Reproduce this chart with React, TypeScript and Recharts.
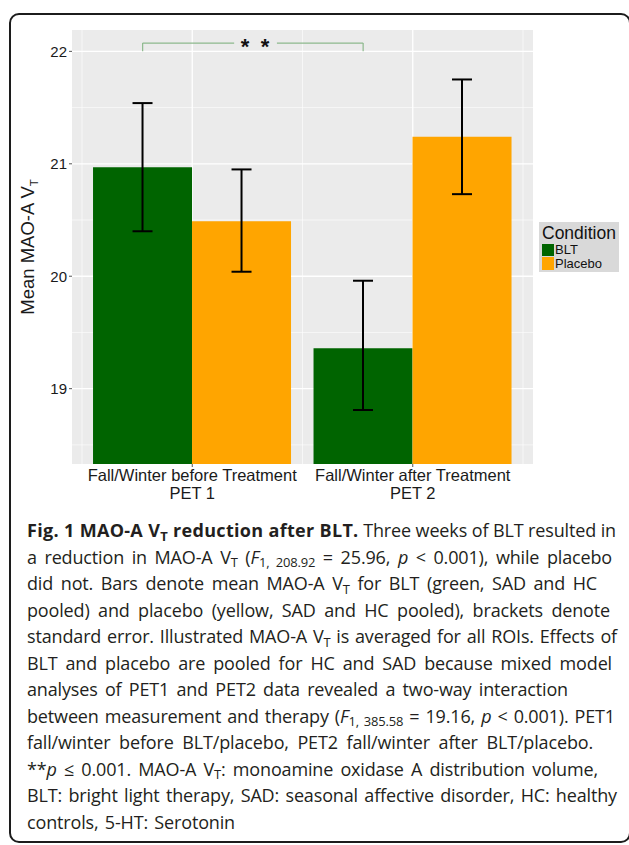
import { ComposedChart, Bar, ErrorBar, XAxis, YAxis, CartesianGrid, Legend, ReferenceLine, ReferenceDot } from 'recharts';

const periods = ['Fall/Winter before Treatment', 'Fall/Winter after Treatment'];
const sessions = ['PET 1', 'PET 2'];
const bltMean = [20.97, 19.36];
const bltLow = [20.4, 18.81];
const bltHigh = [21.54, 19.96];
const placeboMean = [20.49, 21.24];
const placeboLow = [20.04, 20.73];
const placeboHigh = [20.95, 21.75];
const conditions = ['BLT', 'Placebo'];
const conditionColors = ['#006400', '#FFA500'];
const yTicks = [19, 20, 21, 22];
const yMinor = [18.5, 19.5, 20.5, 21.5];
const yDomain = [18.33, 22.19];
// significance bracket, BLT PET1 vs BLT PET2
const bracketY = 22;
const bracketTop = 22.074;
const sigLabel = '*';

const data = periods.map((p, i) => ({
  period: p,
  session: sessions[i],
  blt: bltMean[i],
  bltErr: [bltMean[i] - bltLow[i], bltHigh[i] - bltMean[i]],
  placebo: placeboMean[i],
  placeboErr: [placeboMean[i] - placeboLow[i], placeboHigh[i] - placeboMean[i]],
}));

// hidden numeric axis 0..1 over the same range: each category spans half a unit,
// bars fill 90% of it (5% gap each side)
const catGap = 0.05;
const half = 0.5;
const bltCenter = (catGap + (1 - 2 * catGap) / 4) * half;
const bracketFrom = bltCenter;
const bracketTo = half + bltCenter;
const starsAt = 0.3925;
const gapFrom = 0.345;
const gapTo = 0.442;

const font = 'Liberation Sans, Arial, sans-serif';

const XTick = ({ x, y, payload, index }: any) => (
  <g>
    <text x={x} y={y} dy={11.5} textAnchor="middle" fontSize={16.5} fill="#1a1a1a" fontFamily={font}>{payload.value}</text>
    <text x={x} y={y} dy={29.5} textAnchor="middle" fontSize={16.5} fill="#1a1a1a" fontFamily={font}>{sessions[index]}</text>
  </g>
);

const YLabel = ({ viewBox }: any) => {
  const cx = viewBox.x + 28;
  const cy = viewBox.y + viewBox.height / 2;
  return (
    <text transform={`translate(${cx},${cy}) rotate(-90)`} textAnchor="middle" fontSize={18.5} fill="#1a1a1a" fontFamily={font} dy={6}>
      Mean MAO-A V<tspan fontSize={11.5} dy={4}>T</tspan>
    </text>
  );
};

const LegendBox = () => (
  <div style={{ background: '#d9d9d9', padding: '1px 1px 2px 3px', fontFamily: font, color: '#111', width: 76, textAlign: 'left' }}>
    <div style={{ fontSize: 17.5, lineHeight: '20px', height: 20 }}>Condition</div>
    {conditions.map((c, i) => (
      <div key={c} style={{ display: 'flex', alignItems: 'center', fontSize: 13, lineHeight: '13px', height: 13.5 }}>
        <span style={{ width: 12, height: 12.5, background: conditionColors[i], display: 'inline-block', marginRight: 1 }} />
        {c}
      </div>
    ))}
  </div>
);

const Stars = ({ cx, cy }: any) => (
  <g fontFamily={font} fontWeight="bold" fontSize={22} fill="#111" textAnchor="middle">
    <text x={cx - 10} y={cy + 11}>{sigLabel}</text>
    <text x={cx + 10} y={cy + 11}>{sigLabel}</text>
  </g>
);

const Sub = ({ children }: any) => (
  <span style={{ fontSize: '0.72em', position: 'relative', top: '0.3em', lineHeight: 0 }}>{children}</span>
);

const captionWidths = [589, 585, 570, 583, 590, 585, 541, 588, 566, 571, 590, 208];
const captionLines = [
  <><b style={{ letterSpacing: 0.3 }}>Fig. 1 MAO-A V<Sub>T</Sub> reduction after BLT.</b> Three weeks of BLT resulted in</>,
  <>a reduction in MAO-A V<Sub>T</Sub> (<i>F</i><Sub>1, 208.92</Sub> = 25.96, <i>p</i> &lt; 0.001), while placebo</>,
  <>did not. Bars denote mean MAO-A V<Sub>T</Sub> for BLT (green, SAD and HC</>,
  <>pooled) and placebo (yellow, SAD and HC pooled), brackets denote</>,
  <>standard error. Illustrated MAO-A V<Sub>T</Sub> is averaged for all ROIs. Effects of</>,
  <>BLT and placebo are pooled for HC and SAD because mixed model</>,
  <>analyses of PET1 and PET2 data revealed a two-way interaction</>,
  <>between measurement and therapy (<i>F</i><Sub>1, 385.58</Sub> = 19.16, <i>p</i> &lt; 0.001). PET1</>,
  <>fall/winter before BLT/placebo, PET2 fall/winter after BLT/placebo.</>,
  <>**<i>p</i> ≤ 0.001. MAO-A V<Sub>T</Sub>: monoamine oxidase A distribution volume,</>,
  <>BLT: bright light therapy, SAD: seasonal affective disorder, HC: healthy</>,
  <>controls, 5-HT: Serotonin</>,
];

export default function App() {
  return (
    <div style={{ position: 'absolute', left: 0, top: 0, width: 629, height: 845, background: '#fff', overflow: 'hidden' }}>
      <div style={{ position: 'absolute', left: 9, top: 13, width: 622, height: 830, border: '2px solid #1c1c1c', borderRadius: 10, boxSizing: 'border-box' }} />
      <div style={{ position: 'absolute', left: 0, top: 0 }}>
        <ComposedChart width={629} height={510} data={data} margin={{ top: 30, right: 96, left: 0, bottom: 0 }} barCategoryGap="5%" barGap={0} style={{ fontFamily: font }}>
          <XAxis xAxisId="num" type="number" domain={[0, 1]} hide padding={{ left: 10, right: 10 }} allowDataOverflow />
          <CartesianGrid xAxisId="num" fill="#EBEBEB" fillOpacity={1} stroke="#ffffff" strokeWidth={0.6} horizontalValues={yMinor} verticalValues={[0, 0.5, 1]} />
          <CartesianGrid xAxisId="num" fill="none" stroke="#ffffff" strokeWidth={1.3} horizontalValues={yTicks} verticalValues={[0.25, 0.75]} />
          <XAxis dataKey="period" padding={{ left: 10, right: 10 }} height={46} axisLine={false} tickSize={3} tickMargin={2} tickLine={{ stroke: '#555' }} tick={<XTick />} interval={0} />
          <YAxis domain={yDomain} ticks={yTicks} allowDataOverflow width={72} axisLine={false} tickSize={3} tickMargin={2} tickLine={{ stroke: '#555' }} tick={{ fontSize: 15, fill: '#1a1a1a', fontFamily: font }} label={<YLabel />} />
          <Legend layout="horizontal" verticalAlign="middle" align="center" content={<LegendBox />} wrapperStyle={{ position: 'absolute', left: 539, top: 222, width: 80 }} />
          <Bar dataKey="blt" name={conditions[0]} fill={conditionColors[0]} isAnimationActive={false}>
            <ErrorBar dataKey="bltErr" width={10} stroke="#000" strokeWidth={2} isAnimationActive={false} />
          </Bar>
          <Bar dataKey="placebo" name={conditions[1]} fill={conditionColors[1]} isAnimationActive={false}>
            <ErrorBar dataKey="placeboErr" width={10} stroke="#000" strokeWidth={2} isAnimationActive={false} />
          </Bar>
          <ReferenceLine xAxisId="num" segment={[{ x: bracketFrom, y: bracketY }, { x: bracketFrom, y: bracketTop }]} stroke="#8db98d" strokeWidth={1.2} />
          <ReferenceLine xAxisId="num" segment={[{ x: bracketFrom, y: bracketTop }, { x: gapFrom, y: bracketTop }]} stroke="#8db98d" strokeWidth={1.2} />
          <ReferenceLine xAxisId="num" segment={[{ x: gapTo, y: bracketTop }, { x: bracketTo, y: bracketTop }]} stroke="#8db98d" strokeWidth={1.2} />
          <ReferenceLine xAxisId="num" segment={[{ x: bracketTo, y: bracketTop }, { x: bracketTo, y: bracketY }]} stroke="#8db98d" strokeWidth={1.2} />
          <ReferenceDot xAxisId="num" x={starsAt} y={bracketTop} r={0} shape={<Stars />} />
        </ComposedChart>
      </div>
      <div style={{ position: 'absolute', left: 27, top: 517, fontFamily: 'Open Sans, sans-serif', fontSize: 18, letterSpacing: -0.15, color: '#231f20' }}>
        {captionLines.map((l, i) => (
          <div key={i} style={{ width: captionWidths[i], height: 26.5, lineHeight: '26.5px', whiteSpace: 'nowrap', textAlign: 'justify', textAlignLast: 'justify' }}>{l}</div>
        ))}
      </div>
    </div>
  );
}
